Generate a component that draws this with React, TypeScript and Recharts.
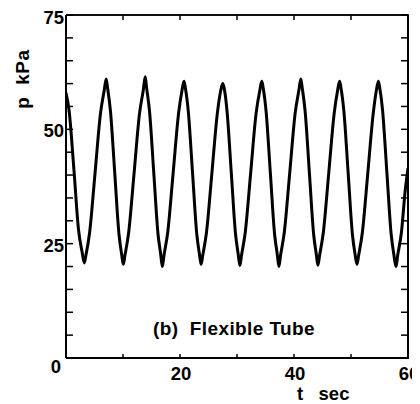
import React from 'react';
import { LineChart, Line, XAxis, YAxis } from 'recharts';

const TIME_S = [
  0.0, 0.55, 1.4, 2.2, 2.85, 3.2, 3.5, 4.15, 5.1, 6.05, 6.7, 7.05, 7.3, 7.8, 8.55, 9.3, 9.75,
  10.05, 10.35, 11.0, 11.95, 12.9, 13.55, 13.9, 14.15, 14.65, 15.4, 16.15, 16.6,
  16.9, 17.2, 17.85, 18.8, 19.75, 20.35, 20.7, 20.95, 21.45, 22.2, 22.95, 23.4,
  23.7, 24.0, 24.65, 25.6, 26.55, 27.15, 27.5, 27.75, 28.25, 29.0, 29.75, 30.2,
  30.5, 30.8, 31.45, 32.4, 33.35, 34.0, 34.35, 34.6, 35.1, 35.85, 36.6, 37.05,
  37.35, 37.65, 38.3, 39.25, 40.2, 40.85, 41.2, 41.45, 41.95, 42.7, 43.45, 43.9,
  44.2, 44.5, 45.15, 46.1, 47.05, 47.65, 48.0, 48.25, 48.75, 49.5, 50.25, 50.7,
  51.05, 51.35, 52.0, 52.95, 53.9, 54.45, 54.8, 55.05, 55.55, 56.3, 57.05, 57.5,
  57.9, 58.2, 58.85, 59.5, 60.0,
];

const PRESSURE_KPA = [
  58.0, 54.0, 41.0, 28.0, 23.0, 20.8, 22.5, 27.5, 40.5, 53.5, 58.5, 61.0, 59.0, 54.0, 40.5, 27.0, 22.8,
  20.5, 22.5, 27.5, 40.5, 53.5, 58.5, 61.5, 59.0, 54.0, 40.5, 27.0, 22.8,
  20.0, 22.5, 27.5, 40.5, 53.5, 58.5, 60.5, 59.0, 54.0, 40.5, 27.0, 22.8,
  20.5, 22.5, 27.5, 40.5, 53.5, 58.5, 60.0, 59.0, 54.0, 40.5, 27.0, 22.8,
  20.2, 22.5, 27.5, 40.5, 53.5, 58.5, 60.5, 59.0, 54.0, 40.5, 27.0, 22.8,
  20.0, 22.5, 27.5, 40.5, 53.5, 58.5, 61.0, 59.0, 54.0, 40.5, 27.0, 22.8,
  20.3, 22.5, 27.5, 40.5, 53.5, 58.5, 60.5, 59.0, 54.0, 40.5, 27.0, 22.8,
  20.5, 22.5, 27.5, 40.5, 53.5, 58.5, 60.5, 59.0, 54.0, 40.5, 27.0, 22.8,
  20.0, 22.5, 27.5, 36.5, 41.5,
];

const Y_MINOR_TICKS = [0, 5, 10, 15, 20, 25, 30, 35, 40, 45, 50, 55, 60, 65, 70, 75];
const Y_LABEL_TICKS = [0, 25, 50, 75];
const X_MINOR_TICKS = [0, 10, 20, 30, 40, 50, 60];
const X_LABEL_TICKS = [20, 40, 60];
const X_MAX = 60;
const Y_MAX = 75;

const Y_TITLE = 'p\u00A0\u00A0kPa';
const X_TITLE = 't\u00A0\u00A0\u00A0sec';
const ANNOTATION = '(b)\u00A0\u00A0Flexible Tube';

const data = TIME_S.map((t, i) => ({ t, p: PRESSURE_KPA[i] }));

const FONT = '"Liberation Sans", Arial, Helvetica, sans-serif';

// layout of the plot frame inside the chart
const CHART_W = 412;
const CHART_H = 396;
const PLOT_LEFT = 58;
const PLOT_TOP = 7;
const PLOT_RIGHT = 400;
const PLOT_BOTTOM = 350;

const YTick = (props: any) => {
  const { x, y, payload } = props;
  const v = payload.value;
  const dy = v === 0 ? 14.5 : v === 75 ? 9 : 8;
  const dx = v === 0 ? -3 : 0;
  return (
    <text x={x + dx} y={y + dy} textAnchor="end" fontFamily={FONT} fontWeight="bold" fontSize={18.5} fill="#000">
      {v}
    </text>
  );
};

const XTick = (props: any) => {
  const { x, y, payload } = props;
  return (
    <text x={x + 1} y={y + 20} textAnchor="middle" fontFamily={FONT} fontWeight="bold" fontSize={18.5} fill="#000">
      {payload.value}
    </text>
  );
};

const NoLabel = () => <g />;

export default function App() {
  return (
    <div style={{ position: 'relative', width: CHART_W, height: CHART_H }}>
      <LineChart width={CHART_W} height={CHART_H} data={data} margin={{ top: 6, right: 11, bottom: 16, left: 0 }}>
        <XAxis
          xAxisId="x"
          dataKey="t"
          type="number"
          domain={[0, X_MAX]}
          allowDataOverflow
          ticks={X_LABEL_TICKS}
          interval={0}
          height={30}
          tickLine={false}
          tickSize={0}
          tick={<XTick />}
          axisLine={{ stroke: '#000', strokeWidth: 2 }}
        />
        <XAxis
          xAxisId="xm"
          dataKey="t"
          type="number"
          domain={[0, X_MAX]}
          allowDataOverflow
          ticks={X_MINOR_TICKS}
          interval={0}
          mirror
          height={10}
          tick={<NoLabel />}
          tickSize={4}
          tickLine={{ stroke: '#000', strokeWidth: 1.5 }}
          axisLine={false}
        />
        <XAxis
          xAxisId="xt"
          orientation="top"
          dataKey="t"
          type="number"
          domain={[0, X_MAX]}
          allowDataOverflow
          ticks={X_MINOR_TICKS}
          interval={0}
          height={1}
          tick={<NoLabel />}
          tickSize={-5}
          tickLine={{ stroke: '#000', strokeWidth: 1.5 }}
          axisLine={{ stroke: '#000', strokeWidth: 1.5 }}
        />
        <YAxis
          yAxisId="y"
          type="number"
          domain={[0, Y_MAX]}
          allowDataOverflow
          ticks={Y_LABEL_TICKS}
          interval={0}
          width={58}
          tickLine={false}
          tickSize={0}
          tickMargin={2}
          tick={<YTick />}
          axisLine={{ stroke: '#000', strokeWidth: 2 }}
        />
        <YAxis
          yAxisId="ym"
          type="number"
          domain={[0, Y_MAX]}
          allowDataOverflow
          ticks={Y_MINOR_TICKS}
          interval={0}
          mirror
          width={10}
          tick={<NoLabel />}
          tickSize={7}
          tickLine={{ stroke: '#000', strokeWidth: 1.5 }}
          axisLine={false}
        />
        <YAxis
          yAxisId="yr"
          orientation="right"
          type="number"
          domain={[0, Y_MAX]}
          allowDataOverflow
          ticks={Y_MINOR_TICKS}
          interval={0}
          width={1}
          tick={<NoLabel />}
          tickSize={-7}
          tickLine={{ stroke: '#000', strokeWidth: 1.5 }}
          axisLine={{ stroke: '#000', strokeWidth: 2 }}
        />
        <Line
          xAxisId="xm"
          yAxisId="ym"
          dataKey="p"
          stroke="none"
          strokeWidth={0}
          dot={false}
          legendType="none"
          isAnimationActive={false}
        />
        <Line
          xAxisId="xt"
          yAxisId="yr"
          dataKey="p"
          stroke="none"
          strokeWidth={0}
          dot={false}
          legendType="none"
          isAnimationActive={false}
        />
        <Line
          xAxisId="x"
          yAxisId="y"
          dataKey="p"
          type="monotone"
          stroke="#000"
          strokeWidth={3}
          dot={false}
          isAnimationActive={false}
        />
      </LineChart>
      <svg
        width={CHART_W}
        height={CHART_H}
        style={{ position: 'absolute', left: 0, top: 0, pointerEvents: 'none' }}
      >
        <line x1={PLOT_LEFT} y1={PLOT_TOP} x2={PLOT_RIGHT + 1} y2={PLOT_TOP} stroke="#000" strokeWidth={1.5} />
        <line x1={PLOT_RIGHT} y1={PLOT_TOP} x2={PLOT_RIGHT} y2={PLOT_BOTTOM + 1} stroke="#000" strokeWidth={2} />
        <text
          transform="translate(14 71) rotate(-90)"
          textAnchor="middle"
          dominantBaseline="central"
          fontFamily={FONT}
          fontWeight="bold"
          fontSize={19}
          letterSpacing={0.6}
          fill="#000"
        >
          {Y_TITLE}
        </text>
        <text x={289} y={392} fontFamily={FONT} fontWeight="bold" fontSize={18.5} fill="#000">
          {X_TITLE}
        </text>
        <text x={145} y={327} fontFamily={FONT} fontWeight="bold" fontSize={19} letterSpacing={0.4} fill="#000">
          {ANNOTATION}
        </text>
      </svg>
    </div>
  );
}
